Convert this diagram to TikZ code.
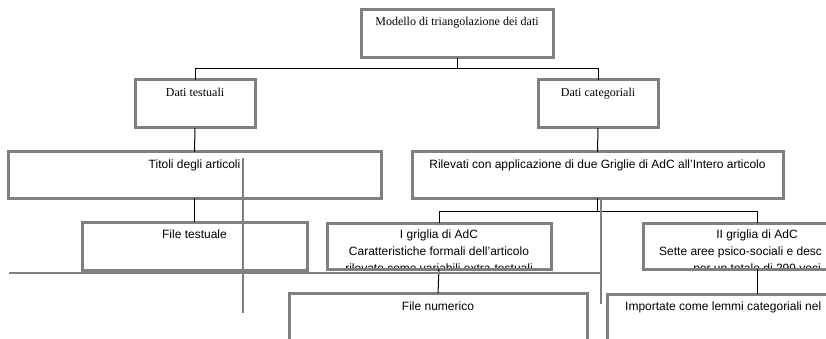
\documentclass[tikz,border=0pt]{standalone}
\usepackage{fontspec}
\setmainfont{Liberation Serif}
\setsansfont{Liberation Sans}
\usepackage{tikz}

\begin{document}
\begin{tikzpicture}[x=1pt,y=-1pt,
        box/.style={draw=gray,line width=3pt,inner sep=0pt,outer sep=0pt},
        link/.style={draw=black,line width=1pt},
        stray/.style={draw=gray,line width=2.5pt},
        serif/.style={anchor=base,inner sep=0pt,font=\rmfamily\fontsize{12}{14}\selectfont},
        sans/.style={anchor=base,inner sep=0pt,font=\sffamily\fontsize{12}{14}\selectfont}]
            \clip (0,0) rectangle (826,339);
            \fill[white] (0,0) rectangle (826,339);

            % boxes
            \node[box,minimum width=192pt,minimum height=48pt] (modello) at (457,34) {};
            \node[box,minimum width=120pt,minimum height=48pt] (datitest) at (195,104) {};
            \node[box,minimum width=120pt,minimum height=48pt] (daticat) at (598,104) {};
            \node[box,minimum width=373pt,minimum height=46pt] (titoli) at (194.5,175) {};
            \node[box,minimum width=371pt,minimum height=46pt] (rilevati) at (597.5,175) {};
            \node[box,minimum width=225pt,minimum height=48pt] (filetest) at (194.5,246) {};
            \node[box,minimum width=224pt,minimum height=46pt] (igriglia) at (439,246) {};
            \node[box,minimum width=228pt,minimum height=46pt] (iigriglia) at (757,246) {};
            \node[box,minimum width=298pt,minimum height=60pt] (filenum) at (438,323) {};
            \node[box,minimum width=300pt,minimum height=60pt] (importate) at (757,324) {};

            % texts
            \node[serif] (modellotxt) at ([yshift=-16pt]modello.north) {Modello di triangolazione dei dati};
            \node[serif] (datitesttxt) at ([yshift=-17pt]datitest.north) {Dati testuali};
            \node[serif] (daticattxt) at ([yshift=-17pt]daticat.north) {Dati categoriali};
            \node[sans] (titolitxt) at ([yshift=-16pt]titoli.north) {Titoli degli articoli};
            \node[sans] (rilevatitxt) at ([yshift=-16pt]rilevati.north) {Rilevati con applicazione di due Griglie di AdC all'Intero articolo};
            \node[sans] (filetesttxt) at ([yshift=-16pt]filetest.north) {File testuale};
            \node[sans] (filenumtxt) at ([yshift=-17pt]filenum.north) {File numerico};
            \node[sans,anchor=base west] (importatetxt) at ([xshift=-132pt,yshift=-16pt]importate.north) {Importate come lemmi categoriali nel};
            \begin{scope}
                \clip ([shift={(1.5,1.5)}]igriglia.north west) rectangle ([shift={(-1.5,-1.5)}]igriglia.south east);
                \node[sans] (igrigliaa) at ([yshift=-15pt]igriglia.north) {I griglia di AdC};
                \node[sans] (igrigliab) at ([yshift=-32pt]igriglia.north) {Caratteristiche formali dell'articolo};
                \node[sans] (igrigliac) at ([yshift=-49pt]igriglia.north) {rilevate come variabili extra-testuali};
            \end{scope}
            \begin{scope}
                \clip ([shift={(1.5,1.5)}]iigriglia.north west) rectangle ([shift={(-1.5,-1.5)}]iigriglia.south east);
                \node[sans] (iigrigliaa) at ([yshift=-15pt]iigriglia.north) {II griglia di AdC};
                \node[sans,anchor=base west] (iigrigliab) at ([xshift=-98pt,yshift=-32pt]iigriglia.north) {Sette aree psico-sociali e desc};
                \node[sans] (iigrigliac) at ([yshift=-49pt]iigriglia.north) {per un totale di 299 voci};
            \end{scope}

            % connectors
            \draw[link] (modello.south) -- ++(0,11) -| (datitest.north);
            \draw[link] (modello.south) -- ++(0,11) -| (daticat.north);
            \draw[link] (datitest.south) -- (titoli.north);
            \draw[link] (daticat.south) -- (rilevati.north);
            \draw[link] (titoli.south) -- (filetest.north);
            \draw[link] (rilevati.south) -- ++(0,13) -| (igriglia.north);
            \draw[link] (rilevati.south) -- ++(0,13) -| (iigriglia.north);
            \draw[link] (igriglia.south) -- (filenum.north);
            \draw[link] (iigriglia.south) -- (importate.north);

            % loose grey strokes
            \coordinate (cursortop) at (243,158);
            \coordinate (cursorbot) at (243,313);
            \coordinate (rulestart) at (9,273);
            \coordinate (ruleend) at (601,273);
            \coordinate (bartop) at (601,197);
            \coordinate (barbot) at (601,304);
            \draw[stray] (cursortop) -- (cursorbot);
            \draw[stray] (rulestart) -- (ruleend);
            \draw[stray] (bartop) -- (barbot);
\end{tikzpicture}
\end{document}
